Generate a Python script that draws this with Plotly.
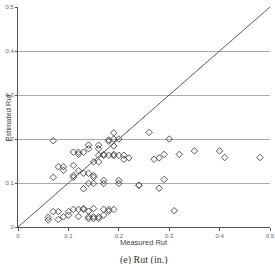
import plotly.graph_objects as go

measured = [0.07, 0.07, 0.07, 0.08, 0.06, 0.06, 0.08, 0.09, 0.10, 0.10, 0.11, 0.12, 0.13, 0.13,
            0.14, 0.15, 0.12, 0.14, 0.14, 0.15, 0.15, 0.16, 0.16, 0.17, 0.17, 0.18, 0.18, 0.19,
            0.08, 0.09, 0.09, 0.11, 0.11, 0.12, 0.12, 0.13, 0.14, 0.14, 0.11, 0.11, 0.12, 0.13,
            0.14, 0.13, 0.14, 0.15, 0.15, 0.15, 0.16, 0.16, 0.15, 0.17, 0.17, 0.18, 0.19, 0.19,
            0.18, 0.18, 0.19, 0.19, 0.20, 0.19, 0.20, 0.21, 0.21, 0.22, 0.17, 0.17, 0.20, 0.20,
            0.16, 0.16, 0.24, 0.26, 0.30, 0.35, 0.40, 0.41, 0.48, 0.32, 0.29, 0.28, 0.27, 0.29,
            0.24, 0.28, 0.31]
estimated = [0.196, 0.113, 0.035, 0.035, 0.022, 0.016, 0.017, 0.023, 0.027, 0.035, 0.040, 0.040, 0.042, 0.040,
             0.036, 0.042, 0.024, 0.023, 0.019, 0.023, 0.019, 0.023, 0.019, 0.027, 0.040, 0.040, 0.036, 0.040,
             0.137, 0.137, 0.129, 0.140, 0.170, 0.170, 0.165, 0.170, 0.186, 0.178, 0.113, 0.117, 0.128, 0.122,
             0.122, 0.087, 0.099, 0.099, 0.117, 0.113, 0.163, 0.148, 0.148, 0.165, 0.163, 0.163, 0.165, 0.162,
             0.198, 0.195, 0.214, 0.200, 0.200, 0.184, 0.163, 0.163, 0.154, 0.157, 0.106, 0.099, 0.106, 0.099,
             0.186, 0.178, 0.095, 0.215, 0.200, 0.173, 0.173, 0.158, 0.158, 0.165, 0.165, 0.157, 0.154, 0.108,
             0.095, 0.088, 0.037]

ticks = [0, 0.1, 0.2, 0.3, 0.4, 0.5]
tick_labels = ["0", "0.1", "0.2", "0.3", "0.4", "0.5"]
diag = [0, 0.5]

fig = go.Figure()
fig.add_trace(go.Scatter(x=diag, y=diag, mode="lines",
                         line=dict(color="#333333", width=0.8), hoverinfo="skip"))
fig.add_trace(go.Scatter(x=measured, y=estimated, mode="markers",
                         marker=dict(symbol="diamond-open", size=5, color="#444444",
                                     line=dict(width=0.9, color="#444444"))))

fig.update_layout(
    width=275, height=264,
    margin=dict(l=17.5, r=5, t=7, b=37),
    paper_bgcolor="white", plot_bgcolor="white",
    showlegend=False,
    font=dict(family="Liberation Sans", size=7, color="#555555"),
    xaxis=dict(range=[0, 0.5], tickvals=ticks, ticktext=tick_labels, automargin=False,
               showgrid=False, zeroline=False, showline=True, linecolor="#555555", linewidth=1,
               ticks="outside", ticklen=3, tickcolor="#555555",
               tickfont=dict(size=6, color="#666666")),
    yaxis=dict(range=[0, 0.5], tickvals=ticks, ticktext=tick_labels, automargin=False,
               showgrid=True, gridcolor="#aaaaaa", gridwidth=1, zeroline=False,
               showline=True, linecolor="#555555", linewidth=1,
               ticks="outside", ticklen=2, tickcolor="#555555",
               tickfont=dict(size=6, color="#666666")),
    annotations=[
        dict(text="Measured Rut", x=0.5, xref="paper", y=-0.04, yref="paper",
             yanchor="top", showarrow=False, font=dict(size=7.5, color="#444444")),
        dict(text="Estimated Rut", x=-0.038, xref="paper", y=0.5, yref="paper",
             xanchor="center", yanchor="middle", textangle=-90, showarrow=False,
             font=dict(size=7.5, color="#444444")),
        dict(text="(e) Rut (in.)", x=0.5, xref="paper", y=-0.115, yref="paper",
             yanchor="top", showarrow=False,
             font=dict(family="Liberation Serif", size=10, color="#333333")),
    ],
)

fig.write_html("out.html")
